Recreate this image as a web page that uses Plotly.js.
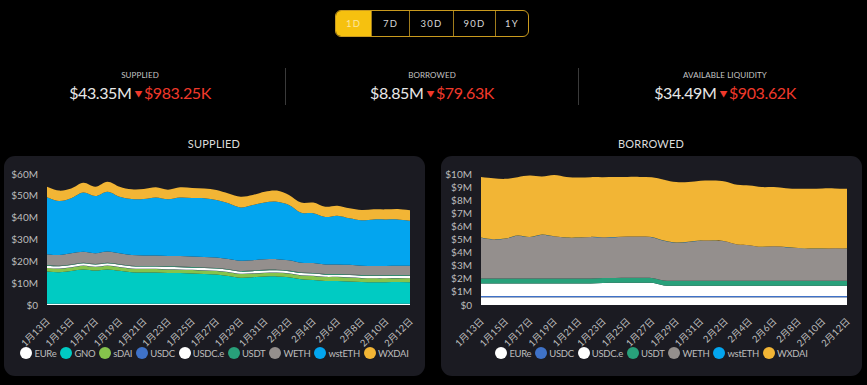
<!DOCTYPE html>
<html><head><meta charset="utf-8">
<script src="https://cdn.plot.ly/plotly-3.0.1.min.js"></script>
<style>
html,body{margin:0;padding:0;background:#000;width:867px;height:385px;overflow:hidden;font-family:Lato,"Noto Sans CJK JP",sans-serif;}
.btns{position:absolute;left:335px;top:10px;height:25px;width:192px;border:1px solid #c99a1e;border-radius:6px;display:flex;overflow:hidden;box-sizing:content-box;}
.btn{color:#d8d8d8;font-size:9.5px;display:flex;align-items:center;justify-content:center;border-left:1px solid #a07c1c;box-sizing:border-box;letter-spacing:1.2px;}
.btn.on{background:#f6c10f;color:#fde7a0;border-left:none;}
.stat{position:absolute;width:280px;text-align:center;}
.lab{position:absolute;left:0;right:0;top:70px;font-size:8px;color:#c4c4c4;letter-spacing:0.1px;}
.val{position:absolute;left:0;right:0;top:83px;font-size:16px;color:#e8e8e8;letter-spacing:-0.4px;}
.neg{color:#f0392b;}
.tri{font-size:8px;color:#f0392b;vertical-align:2px;margin:0 2px 0 3px;}
.div{position:absolute;top:68px;width:1px;height:37px;background:#3a3a3a;}
.ttl{position:absolute;top:137px;font-size:11px;color:#dcdcdc;text-align:center;width:200px;letter-spacing:0.2px;}
.panel{position:absolute;top:156px;width:421px;height:220px;background:#1b1b22;border-radius:11px;}
.chart{position:absolute;left:0;top:0;width:421px;height:220px;}
.leg{position:absolute;left:0;right:0;top:347px;display:flex;justify-content:center;align-items:center;font-size:9.5px;color:#bdbdbd;letter-spacing:-0.3px;}
.li{display:flex;align-items:center;margin:0 2px;}
.dot{width:12px;height:12px;border-radius:50%;margin-right:2px;}
</style></head>
<body>
<div class="btns">
  <div class="btn on" style="width:35px">1D</div>
  <div class="btn" style="width:38px">7D</div>
  <div class="btn" style="width:44px">30D</div>
  <div class="btn" style="width:42px">90D</div>
  <div class="btn" style="width:33px">1Y</div>
</div>

<div class="stat" style="left:0px"><div class="lab">SUPPLIED</div><div class="val">$43.35M<span class="tri">▼</span><span class="neg">$983.25K</span></div></div>
<div class="div" style="left:285px"></div>
<div class="stat" style="left:292px"><div class="lab">BORROWED</div><div class="val">$8.85M<span class="tri">▼</span><span class="neg">$79.63K</span></div></div>
<div class="div" style="left:578px"></div>
<div class="stat" style="left:585px"><div class="lab">AVAILABLE LIQUIDITY</div><div class="val">$34.49M<span class="tri">▼</span><span class="neg">$903.62K</span></div></div>

<div class="ttl" style="left:114px">SUPPLIED</div>
<div class="ttl" style="left:551px">BORROWED</div>

<div class="panel" style="left:4px"><div id="supChart" class="chart"></div></div>
<div class="panel" style="left:441px"><div id="borChart" class="chart"></div></div>
<div id="supLeg" class="leg" style="left:4px;width:421px"></div>
<div id="borLeg" class="leg" style="left:441px;width:421px"></div>

<script>
// ---- data (values in millions of USD) ----
const dates = ["1月13日","1月14日","1月15日","1月16日","1月17日","1月18日","1月19日","1月20日","1月21日","1月22日","1月23日","1月24日","1月25日","1月26日","1月27日","1月28日","1月29日","1月30日","1月31日","2月1日","2月2日","2月3日","2月4日","2月5日","2月6日","2月7日","2月8日","2月9日","2月10日","2月11日","2月12日"];
const xTickLabels = ["1月13日","1月15日","1月17日","1月19日","1月21日","1月23日","1月25日","1月27日","1月29日","1月31日","2月2日","2月4日","2月6日","2月8日","2月10日","2月12日"];

const supYTicks = [0,10,20,30,40,50,60];
const supYTickText = ["$0","$10M","$20M","$30M","$40M","$50M","$60M"];
const borYTicks = [0,1,2,3,4,5,6,7,8,9,10];
const borYTickText = ["$0","$1M","$2M","$3M","$4M","$5M","$6M","$7M","$8M","$9M","$10M"];

const supNames = ["EURe","GNO","sDAI","USDC","USDC.e","USDT","WETH","wstETH","WXDAI"];
const supEURe   = [0.6,0.6,0.6,0.6,0.6,0.6,0.6,0.6,0.6,0.6,0.6,0.6,0.6,0.6,0.6,0.6,0.6,0.6,0.6,0.6,0.6,0.6,0.6,0.6,0.6,0.6,0.6,0.6,0.6,0.6,0.6];
const supGNO    = [14.7,14.4,15.0,15.7,15.2,15.7,15.1,14.4,14.3,14.3,14.1,14.0,13.8,13.6,13.4,12.7,11.9,12.1,12.4,12.5,12.1,11.2,10.9,10.4,10.4,10.2,9.9,9.8,9.8,9.9,9.8];
const supSDAI   = [1.6,1.6,1.6,1.7,1.6,1.7,1.6,1.6,1.6,1.6,1.6,1.6,1.6,1.6,1.6,1.7,1.7,1.7,1.7,1.7,1.7,1.7,1.8,1.8,1.8,1.8,1.8,1.8,1.8,1.8,1.8];
const supUSDC   = [0.1,0.1,0.1,0.1,0.1,0.1,0.1,0.1,0.1,0.1,0.1,0.1,0.1,0.1,0.1,0.1,0.1,0.1,0.1,0.1,0.1,0.1,0.1,0.1,0.1,0.1,0.1,0.1,0.1,0.1,0.1];
const supUSDCe  = [1.0,1.0,1.0,1.0,1.0,1.0,1.0,1.0,1.0,1.0,1.0,1.0,1.0,1.0,1.0,1.0,1.0,1.0,1.0,1.0,1.0,1.0,1.0,1.0,1.0,1.0,1.0,1.0,1.0,1.0,1.0];
const supUSDT   = [0.3,0.3,0.3,0.3,0.3,0.3,0.3,0.3,0.3,0.3,0.3,0.3,0.3,0.3,0.3,0.3,0.3,0.3,0.3,0.3,0.3,0.3,0.3,0.3,0.3,0.3,0.3,0.3,0.3,0.3,0.3];
const supWETH   = [5.0,4.9,5.1,5.0,4.9,5.1,5.0,4.9,4.8,4.8,4.8,4.8,4.8,4.8,4.8,4.7,4.7,4.7,4.8,4.8,4.7,4.5,4.5,4.4,4.4,4.4,4.3,4.3,4.3,4.3,4.4];
const supWSTETH = [26.0,24.7,25.2,27.1,26.2,27.4,25.9,25.6,25.8,26.5,25.9,26.8,26.8,26.9,26.3,25.5,24.4,25.3,26.1,26.3,25.3,22.9,22.8,21.7,22.3,21.3,20.8,21.3,21.3,21.2,20.6];
const supWXDAI  = [4.9,4.8,4.5,4.5,4.3,4.6,4.6,4.5,4.6,4.7,4.4,4.7,4.6,4.5,4.6,4.5,4.9,4.6,4.9,5.1,4.6,4.6,4.9,4.7,4.6,4.6,4.7,4.6,4.6,4.8,4.8];
const supColors = ["#ffffff","#00cbc3","#86c34c","#3f72c8","#ffffff","#28a07a","#948f8d","#03a5ef","#f2b535"];

const borNames = ["EURe","USDC","USDC.e","USDT","WETH","wstETH","WXDAI"];
const borEURe   = [0.60,0.60,0.60,0.60,0.60,0.60,0.60,0.60,0.60,0.60,0.60,0.60,0.60,0.60,0.60,0.60,0.60,0.60,0.60,0.60,0.60,0.60,0.60,0.60,0.60,0.60,0.60,0.60,0.60,0.60,0.60];
const borUSDC   = [0.08,0.08,0.08,0.08,0.08,0.08,0.08,0.08,0.08,0.08,0.08,0.08,0.08,0.08,0.08,0.08,0.08,0.08,0.08,0.08,0.08,0.08,0.08,0.08,0.08,0.08,0.08,0.08,0.08,0.08,0.08];
const borUSDCe  = [0.97,0.97,0.97,0.97,0.97,0.97,0.97,0.97,0.97,0.97,1.00,1.01,1.02,1.02,1.01,0.81,0.79,0.79,0.79,0.79,0.79,0.79,0.79,0.79,0.79,0.79,0.79,0.79,0.79,0.79,0.79];
const borUSDT   = [0.38,0.38,0.38,0.38,0.38,0.38,0.38,0.38,0.38,0.38,0.38,0.38,0.38,0.38,0.38,0.38,0.38,0.38,0.38,0.38,0.38,0.38,0.38,0.38,0.38,0.38,0.38,0.38,0.38,0.38,0.38];
const borWETH   = [3.11,2.98,3.03,3.26,3.16,3.34,3.21,3.11,3.11,3.16,3.11,3.11,3.14,3.14,3.11,3.04,2.91,2.96,3.06,3.06,3.01,2.76,2.71,2.58,2.63,2.56,2.50,2.45,2.45,2.48,2.45];
const borWSTETH = [0.01,0.01,0.01,0.01,0.01,0.01,0.01,0.01,0.01,0.01,0.01,0.01,0.01,0.01,0.01,0.01,0.01,0.01,0.01,0.01,0.01,0.01,0.01,0.01,0.01,0.01,0.01,0.01,0.01,0.01,0.01];
const borWXDAI  = [4.63,4.66,4.56,4.46,4.68,4.43,4.68,4.63,4.58,4.56,4.58,4.58,4.55,4.55,4.56,4.65,4.61,4.56,4.56,4.58,4.56,4.55,4.55,4.56,4.51,4.50,4.51,4.56,4.59,4.56,4.56];
const borColors = ["#ffffff","#3f72c8","#ffffff","#28a07a","#948f8d","#03a5ef","#f2b535"];

const supSeries = [supEURe,supGNO,supSDAI,supUSDC,supUSDCe,supUSDT,supWETH,supWSTETH,supWXDAI];
const borSeries = [borEURe,borUSDC,borUSDCe,borUSDT,borWETH,borWSTETH,borWXDAI];

const FONT = 'Lato, "Noto Sans CJK JP", sans-serif';

function traces(names, series, colors){
  return names.map((n,i)=>({
    type:'scatter', mode:'lines', name:n, x:dates, y:series[i],
    stackgroup:'one', line:{width:0, shape:'spline', smoothing:1, color:colors[i]},
    fillcolor:colors[i], showlegend:false, hoverinfo:'skip'
  }));
}

function layout(ml, yTicks, yText, yMax){
  return {
    width:421, height:220,
    margin:{l:ml, r:15, t:18, b:71},
    paper_bgcolor:'rgba(0,0,0,0)', plot_bgcolor:'rgba(0,0,0,0)',
    font:{family:FONT, color:'#bdbdbd', size:10},
    showlegend:false,
    xaxis:{type:'category', range:[0, dates.length-1], tickmode:'array', tickvals:xTickLabels, ticktext:xTickLabels,
      tickangle:-45, ticks:'outside', ticklen:6, tickcolor:'rgba(0,0,0,0)', showgrid:false, zeroline:false,
      showline:false, tickfont:{size:9.5, color:'#bdbdbd', family:FONT}, fixedrange:true},
    yaxis:{range:[0,yMax], tickmode:'array', tickvals:yTicks, ticktext:yText, showgrid:false, zeroline:false,
      showline:false, ticks:'outside', ticklen:6, tickcolor:'rgba(0,0,0,0)', tickfont:{size:10, color:'#bdbdbd', family:FONT}, fixedrange:true}
  };
}

Plotly.newPlot('supChart', traces(supNames, supSeries, supColors), layout(43, supYTicks, supYTickText, 60), {staticPlot:true, displayModeBar:false});
Plotly.newPlot('borChart', traces(borNames, borSeries, borColors), layout(40, borYTicks, borYTickText, 10), {staticPlot:true, displayModeBar:false});

function legend(id, names, colors){
  const el = document.getElementById(id);
  names.forEach((n,i)=>{
    const it = document.createElement('div'); it.className='li';
    const d = document.createElement('div'); d.className='dot'; d.style.background=colors[i];
    const t = document.createElement('span'); t.textContent=n;
    it.appendChild(d); it.appendChild(t); el.appendChild(it);
  });
}
legend('supLeg', supNames, supColors);
legend('borLeg', borNames, borColors);
</script>
</body></html>
